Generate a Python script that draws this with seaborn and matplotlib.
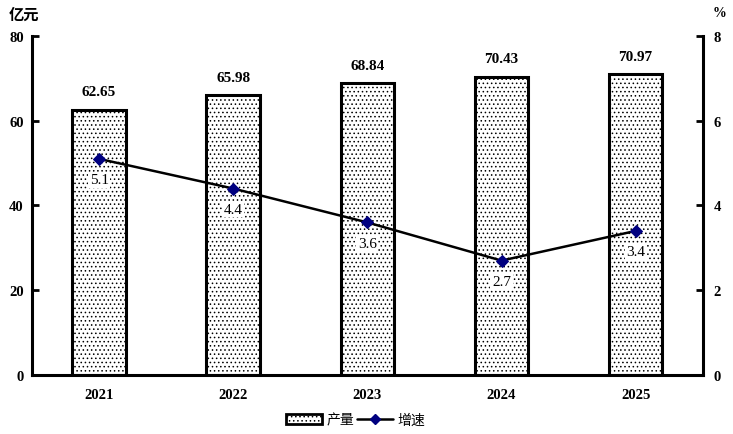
import matplotlib
matplotlib.use("Agg")
import matplotlib.pyplot as plt
import seaborn as sns
import numpy as np
import pandas as pd
from matplotlib.patches import Patch
from matplotlib.lines import Line2D

years = ["2021", "2022", "2023", "2024", "2025"]
output = [62.65, 65.98, 68.84, 70.43, 70.97]
growth = [5.1, 4.4, 3.6, 2.7, 3.4]
left_ticks = [0, 20, 40, 60, 80]
right_ticks = [0, 2, 4, 6, 8]

sns.set_theme(style="white")
plt.rcParams['font.family'] = ['Liberation Serif', 'Noto Sans CJK SC', 'DejaVu Sans']
plt.rcParams['hatch.linewidth'] = 0.6
for k in ['text.color', 'axes.labelcolor', 'xtick.color', 'ytick.color']:
    plt.rcParams[k] = 'black'

df = pd.DataFrame({"year": years, "output": output, "growth": growth})

fig = plt.figure(figsize=(7.33, 4.35), dpi=100)
ax = fig.add_axes([0.0437, 0.1356, 0.915, 0.7794])

sns.barplot(data=df, x="year", y="output", color="white", edgecolor="black",
            linewidth=2.2, width=0.40, ax=ax, saturation=1)
for p in ax.patches:
    p.set_hatch("....")
    p.set_facecolor("white")
    p.set_edgecolor("black")

ax.set_ylim(0, 80)
ax.set_xlim(-0.5, 4.5)
ax.set_yticks(left_ticks)
ax.set_xlabel("")
ax.set_ylabel("")
ax.set_xticks(np.arange(len(years)))
ax.set_xticklabels(years)
ax.set_xticks(np.arange(len(years) - 1) + 0.5, minor=True)
ax.tick_params(axis="x", which="major", length=0, pad=9, labelsize=10.5, colors="black")
ax.tick_params(axis="x", which="minor", length=5, width=2, direction="in", colors="black")
ax.tick_params(axis="y", length=5, width=2, direction="in", labelsize=10.5, pad=6, colors="black")
for lab in ax.get_xticklabels() + ax.get_yticklabels():
    lab.set_fontweight("bold")

for s in ["top", "right"]:
    ax.spines[s].set_visible(False)
for s in ["left", "bottom"]:
    ax.spines[s].set_linewidth(2.2)
    ax.spines[s].set_color("black")

for i, v in enumerate(output):
    ax.annotate(f"{v:.2f}", (i, v), xytext=(0, 8), textcoords="offset points",
                ha="center", va="bottom", fontsize=11, fontweight="bold", color="black")

ax2 = ax.twinx()
sns.lineplot(x=np.arange(len(years)), y=growth, ax=ax2, color="black", linewidth=1.8,
             marker="D", markersize=6, markerfacecolor="#000080", markeredgecolor="#000080")
ax2.set_ylim(0, 8)
ax2.set_yticks(right_ticks)
ax2.set_ylabel("")
ax2.tick_params(axis="y", length=5, width=2, direction="in", labelsize=10.5, pad=8, colors="black")
for lab in ax2.get_yticklabels():
    lab.set_fontweight("bold")
for s in ["top", "left", "bottom"]:
    ax2.spines[s].set_visible(False)
ax2.spines["right"].set_linewidth(2.2)
ax2.spines["right"].set_color("black")

for i, v in enumerate(growth):
    ax2.annotate(f"{v:.1f}", (i, v), xytext=(0, -15), textcoords="offset points",
                 ha="center", va="center", fontsize=11, color="black",
                 bbox=dict(boxstyle="square,pad=0.1", fc="white", ec="none"))

fig.text(0.012, 0.965, "亿元", fontsize=11, fontweight="bold", color="black",
         family=['Noto Sans CJK SC', 'DejaVu Sans'], ha="left", va="center")
fig.text(0.972, 0.968, "%", fontsize=10, fontweight="bold", ha="left", va="center", color="black")

handles = [Patch(facecolor="white", edgecolor="black", hatch="....", linewidth=2, label="产量"),
           Line2D([0], [0], color="black", linewidth=1.8, marker="D", markersize=5,
                  markerfacecolor="#000080", markeredgecolor="#000080", label="增速")]
fig.legend(handles=handles, loc="center", bbox_to_anchor=(0.485, 0.033), ncol=2,
           frameon=False, handlelength=2.6, handletextpad=0.3, labelcolor="black",
           columnspacing=0.2, prop={'family': ['Noto Sans CJK SC', 'DejaVu Sans'], 'size': 10})

fig.savefig("out.png", dpi=100)
